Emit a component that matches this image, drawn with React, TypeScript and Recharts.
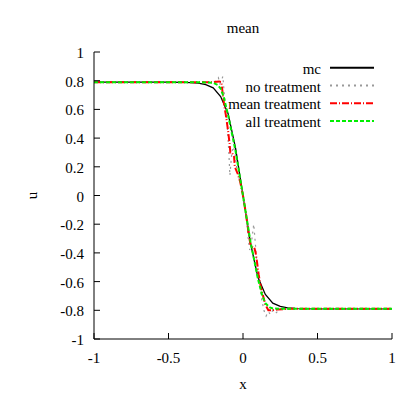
import React from "react";
import { LineChart, Line, XAxis, YAxis, Customized } from "recharts";

// mc reference solution
const mcX = [-1, -0.5, -0.4, -0.35, -0.3, -0.25, -0.2, -0.15, -0.1, -0.05, 0, 0.05, 0.1, 0.15, 0.2, 0.25, 0.3, 0.35, 0.4, 0.5, 1];
const mcU = [0.79, 0.79, 0.788, 0.787, 0.783, 0.773, 0.75, 0.69, 0.57, 0.33, 0, -0.33, -0.57, -0.69, -0.75, -0.773, -0.783, -0.787, -0.788, -0.79, -0.79];

// no treatment
const noX = [-1, -0.3, -0.2, -0.175, -0.165, -0.155, -0.145, -0.135, -0.125, -0.115, -0.105, -0.095, -0.088, -0.075, -0.065, -0.05, -0.04, -0.02, 0, 0.02, 0.035, 0.045, 0.06, 0.072, 0.085, 0.095, 0.11, 0.125, 0.14, 0.155, 0.17, 0.185, 0.2, 0.22, 0.25, 1];
const noU = [0.79, 0.79, 0.79, 0.8, 0.82, 0.78, 0.8, 0.83, 0.7, 0.6, 0.48, 0.3, 0.14, 0.3, 0.34, 0.28, 0.17, 0.1, 0, -0.12, -0.3, -0.38, -0.3, -0.2, -0.36, -0.5, -0.62, -0.72, -0.8, -0.84, -0.81, -0.83, -0.8, -0.82, -0.79, -0.79];

// mean treatment
const meanX = [-1, -0.3, -0.2, -0.16, -0.145, -0.135, -0.125, -0.115, -0.1, -0.09, -0.085, -0.075, -0.06, -0.055, -0.035, -0.02, 0, 0.02, 0.04, 0.05, 0.065, 0.075, 0.085, 0.095, 0.105, 0.12, 0.135, 0.15, 0.17, 0.2, 0.23, 0.3, 1];
const meanU = [0.79, 0.79, 0.79, 0.795, 0.79, 0.7, 0.62, 0.56, 0.45, 0.36, 0.3, 0.3, 0.27, 0.2, 0.15, 0.1, 0, -0.13, -0.28, -0.34, -0.36, -0.36, -0.4, -0.47, -0.55, -0.64, -0.7, -0.76, -0.8, -0.8, -0.795, -0.79, -0.79];

// all treatment
const allX = [-1, -0.3, -0.2, -0.17, -0.15, -0.13, -0.1, -0.05, 0, 0.05, 0.1, 0.13, 0.15, 0.18, 0.2, 0.25, 1];
const allU = [0.79, 0.79, 0.785, 0.77, 0.745, 0.69, 0.56, 0.31, 0, -0.32, -0.58, -0.7, -0.75, -0.78, -0.787, -0.79, -0.79];

const xTicks = [-1, -0.5, 0, 0.5, 1];
const yTicks = [-1, -0.8, -0.6, -0.4, -0.2, 0, 0.2, 0.4, 0.6, 0.8, 1];

const zip = (xs: number[], us: number[]) => xs.map((x, i) => ({ x, u: us[i] }));

const series = [
  { name: "mc", data: zip(mcX, mcU), color: "#000000", width: 1.3, dash: undefined as string | undefined, legendWidth: 2 },
  { name: "no treatment", data: zip(noX, noU), color: "#999999", width: 1.2, dash: "2 4", legendWidth: 2 },
  { name: "mean treatment", data: zip(meanX, meanU), color: "#ff0000", width: 2, dash: "7 2 1 2", legendWidth: 2 },
  { name: "all treatment", data: zip(allX, allU), color: "#00ee00", width: 2, dash: "4 2", legendWidth: 2 },
];

const FONT = "'Liberation Serif', 'DejaVu Serif', serif";
const TICK = 6;

const fmt = (v: number) => String(v);

const BottomTick = (props: any) => {
  const { x, y, payload } = props;
  return (
    <g>
      <line x1={x} y1={y} x2={x} y2={y - TICK} stroke="#000" />
      <text x={x} y={y + 24} textAnchor="middle" fontSize={15} fontFamily={FONT} fill="#000">
        {fmt(payload.value)}
      </text>
    </g>
  );
};

const TopTick = (props: any) => {
  const { x, y } = props;
  return <line x1={x} y1={y} x2={x} y2={y + TICK} stroke="#000" />;
};

const LeftTick = (props: any) => {
  const { x, y, payload } = props;
  return (
    <g>
      <line x1={x} y1={y} x2={x + TICK} y2={y} stroke="#000" />
      <text x={x - 10} y={y + 6} textAnchor="end" fontSize={15} fontFamily={FONT} fill="#000">
        {fmt(payload.value)}
      </text>
    </g>
  );
};

const RightTick = (props: any) => {
  const { x, y } = props;
  return <line x1={x} y1={y} x2={x - TICK} y2={y} stroke="#000" />;
};

const Decorations = () => (
  <g fontFamily={FONT} fill="#000">
    <text x={243} y={33} textAnchor="middle" fontSize={15}>mean</text>
    <text x={243} y={389} textAnchor="middle" fontSize={15}>x</text>
    <text x={37} y={195.5} textAnchor="middle" fontSize={15} transform="rotate(-90 37 195.5)">u</text>
    {series.map((s, i) => {
      const ly = 67.7 + i * 17.8;
      return (
        <g key={s.name}>
          <text x={321} y={ly + 6} textAnchor="end" fontSize={15}>{s.name}</text>
          <line x1={330} y1={ly} x2={374} y2={ly} stroke={s.color} strokeWidth={s.legendWidth} strokeDasharray={s.dash} />
        </g>
      );
    })}
  </g>
);

export default function App() {
  return (
    <div style={{ position: "absolute", left: 0, top: 0, width: 415, height: 395, background: "#fff" }}>
      <LineChart width={415} height={395} margin={{ top: 52, right: 23, bottom: 26, left: 44 }}>
        <XAxis
          dataKey="x"
          type="number"
          domain={[-1, 1]}
          ticks={xTicks}
          allowDuplicatedCategory={false}
          height={30}
          tickSize={0}
          tickMargin={0}
          tickLine={false}
          axisLine={{ stroke: "#000" }}
          tick={BottomTick}
        />
        <XAxis
          xAxisId="top"
          orientation="top"
          type="number"
          domain={[-1, 1]}
          ticks={xTicks}
          height={0}
          tickSize={0}
          tickMargin={0}
          tickLine={false}
          axisLine={{ stroke: "#000" }}
          tick={TopTick}
        />
        <YAxis
          type="number"
          domain={[-1, 1]}
          ticks={yTicks}
          width={50}
          tickSize={0}
          tickMargin={0}
          tickLine={false}
          axisLine={{ stroke: "#000" }}
          tick={LeftTick}
        />
        <YAxis
          yAxisId="right"
          orientation="right"
          type="number"
          domain={[-1, 1]}
          ticks={yTicks}
          width={0}
          tickSize={0}
          tickMargin={0}
          tickLine={false}
          axisLine={{ stroke: "#000" }}
          tick={RightTick}
        />
        {series.map((s) => (
          <Line
            key={s.name}
            data={s.data}
            dataKey="u"
            name={s.name}
            type="linear"
            stroke={s.color}
            strokeWidth={s.width}
            strokeDasharray={s.dash}
            dot={false}
            activeDot={false}
            isAnimationActive={false}
          />
        ))}
        <Customized component={Decorations} />
      </LineChart>
    </div>
  );
}
